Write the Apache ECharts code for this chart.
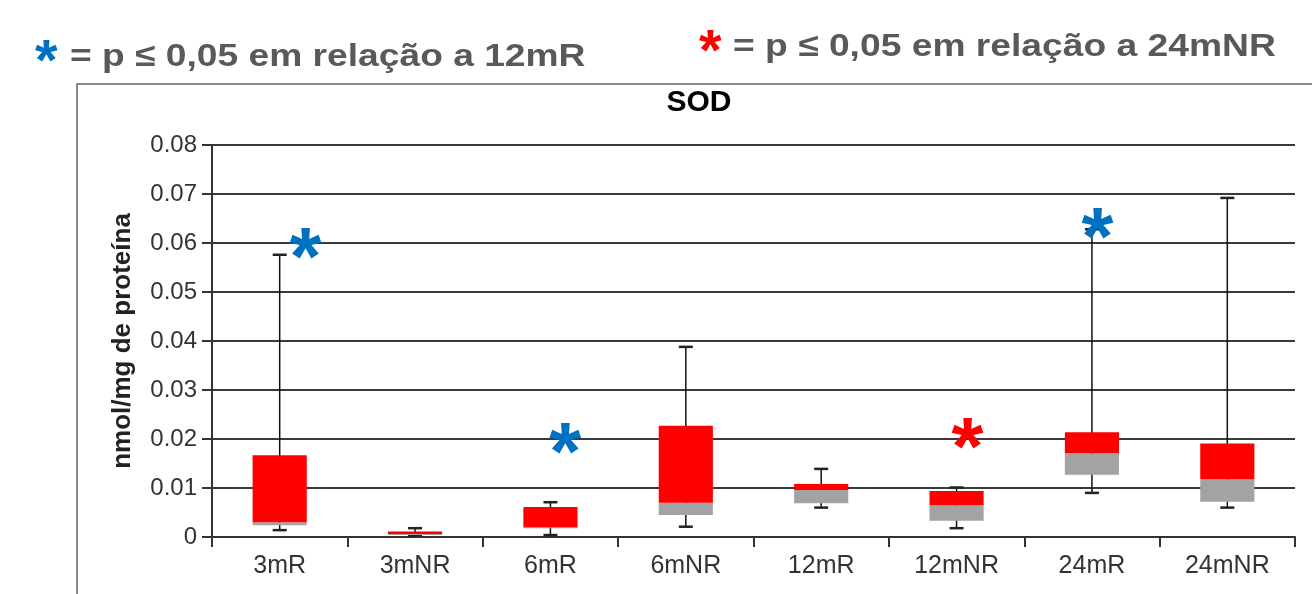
<!DOCTYPE html>
<html><head><meta charset="utf-8">
<script src="https://cdn.jsdelivr.net/npm/echarts@6/dist/echarts.min.js"></script>
<style>html,body{margin:0;padding:0;background:#fff}#c{width:1312px;height:594px}</style>
</head><body><div id="c"></div>
<script>
const categories = ['3mR','3mNR','6mR','6mNR','12mR','12mNR','24mR','24mNR'];
const whiskerMin = [0.0014,0.0003,0.0004,0.0021,0.0060,0.0018,0.0090,0.0060];
const q1Values   = [0.0024,0.0004,0.0018,0.0045,0.0069,0.0033,0.0127,0.0072];
const medians    = [0.0030,0.0006,0.0020,0.0070,0.0096,0.0065,0.0171,0.0118];
const q3Values   = [0.0167,0.0011,0.0061,0.0227,0.0108,0.0094,0.0214,0.0191];
const whiskerMax = [0.0576,0.0018,0.0071,0.0388,0.0139,0.0101,0.0628,0.0692];
const yTicks = [0,0.01,0.02,0.03,0.04,0.05,0.06,0.07,0.08];
// significance asterisks: [x position in category units, value]
const starsBlue = [[0.19,0.0600],[2.11,0.0202],[6.04,0.0640]];
const starsRed  = [[5.08,0.0212]];

const boxData = categories.map((c,i)=>[i, whiskerMin[i], q1Values[i], medians[i], q3Values[i], whiskerMax[i]]);

const chart = echarts.init(document.getElementById('c'), null, {renderer:'canvas'});
function starSeries(data,color){
  return {
    type:'scatter', xAxisIndex:1, data:data, symbolSize:0, silent:true, z:10,
    itemStyle:{color:color, opacity:1},
    label:{show:true, position:'inside', formatter:'*', color:color, opacity:1, textBorderWidth:0, textBorderColor:'transparent',
      fontSize:82, fontWeight:'bold', fontFamily:'Liberation Sans', offset:[0,18]}
  };
}
chart.setOption({
  animation:false,
  backgroundColor:'#fff',
  graphic:[
    {type:'rect', shape:{x:77,y:84,width:1300,height:560}, style:{fill:'none',stroke:'#8a8a8a',lineWidth:2}, z:-10},
    {type:'text', x:35, y:35, style:{text:'*', fill:'#0070c0', font:'bold 58px "Liberation Sans"'}},
    {type:'text', x:70, y:41, scaleX:1.162, style:{text:'= p ≤ 0,05 em relação a 12mR', fill:'#595959', font:'bold 32px "Liberation Sans"'}},
    {type:'text', x:699, y:25, style:{text:'*', fill:'#ff0000', font:'bold 58px "Liberation Sans"'}},
    {type:'text', x:733, y:31, scaleX:1.163, style:{text:'= p ≤ 0,05 em relação a 24mNR', fill:'#595959', font:'bold 32px "Liberation Sans"'}}
  ],
  title:{text:'SOD', left:694, textAlign:'center', top:83, textStyle:{fontSize:30, fontWeight:'bold', color:'#000', fontFamily:'Liberation Sans'}},
  grid:{left:212, right:17, top:145, bottom:57, containLabel:false},
  xAxis:[{
    type:'category', data:categories, boundaryGap:true,
    axisLine:{lineStyle:{color:'#333',width:2}},
    axisTick:{show:true, length:10, lineStyle:{color:'#333',width:2}},
    axisLabel:{fontSize:25, color:'#333', margin:17, fontFamily:'Liberation Sans'},
    splitLine:{show:false}
  },{
    type:'value', min:-0.5, max:7.5, show:false
  }],
  yAxis:{
    type:'value', min:0, max:0.08, interval:0.01,
    name:'nmol/mg de proteína', nameLocation:'middle', nameGap:76, nameRotate:90,
    nameTextStyle:{fontSize:26, fontWeight:'bold', color:'#222', fontFamily:'Liberation Sans'},
    axisLine:{show:true, onZero:false, lineStyle:{color:'#333',width:2}},
    axisTick:{show:true, length:10, lineStyle:{color:'#333',width:2}},
    axisLabel:{fontSize:24, color:'#333', margin:15, fontFamily:'Liberation Sans',
      formatter:v=>{const t=yTicks.find(x=>Math.abs(x-v)<1e-9); return t===0?'0':t.toFixed(2);}},
    splitLine:{show:true, lineStyle:{color:'#3a3a3a', width:2}}
  },
  series:[{
    type:'custom', data:boxData, z:5,
    renderItem:(params, api)=>{
      const i=api.value(0);
      const pMin=api.coord([i,api.value(1)]);
      const pQ1=api.coord([i,api.value(2)]);
      const pMed=api.coord([i,api.value(3)]);
      const pQ3=api.coord([i,api.value(4)]);
      const pMax=api.coord([i,api.value(5)]);
      const bw=api.size([1,0])[0]*0.4;
      const cw=14;
      const x=pMin[0];
      return {type:'group', children:[
        {type:'line', shape:{x1:x,y1:pMin[1],x2:x,y2:pMax[1]}, style:{stroke:'#111',lineWidth:1.5}},
        {type:'line', shape:{x1:x-cw/2,y1:pMax[1],x2:x+cw/2,y2:pMax[1]}, style:{stroke:'#222',lineWidth:2.5}},
        {type:'line', shape:{x1:x-cw/2,y1:pMin[1],x2:x+cw/2,y2:pMin[1]}, style:{stroke:'#222',lineWidth:2.5}},
        {type:'rect', shape:{x:x-bw/2,y:pMed[1],width:bw,height:pQ1[1]-pMed[1]}, style:{fill:'#a3a3a3'}},
        {type:'rect', shape:{x:x-bw/2,y:pQ3[1],width:bw,height:pMed[1]-pQ3[1]}, style:{fill:'#ff0000'}}
      ]};
    }
  }, starSeries(starsBlue,'#0070c0'), starSeries(starsRed,'#ff0000')]
});
</script></body></html>
